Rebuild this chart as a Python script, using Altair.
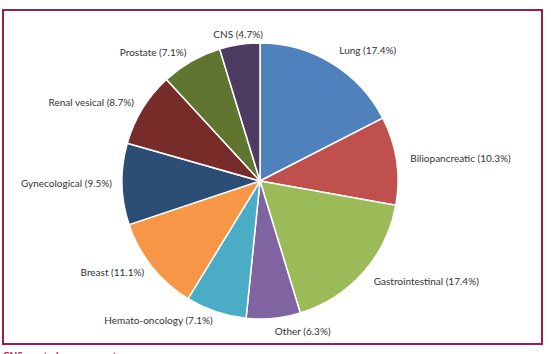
import math
import altair as alt
import pandas as pd

categories = ["Lung", "Biliopancreatic", "Gastrointestinal", "Other", "Hemato-oncology",
              "Breast", "Gynecological", "Renal vesical", "Prostate", "CNS"]
percent = [17.4, 10.3, 17.4, 6.3, 7.1, 11.1, 9.5, 8.7, 7.1, 4.7]
colors = ["#4F81BD", "#C0504D", "#9BBB59", "#8064A2", "#4BACC6",
          "#F79646", "#2C4D75", "#772C2A", "#5F7530", "#4D3B62"]
footnote = "CNS: central nervous system."

df = pd.DataFrame({
    "cat": categories,
    "pct": percent,
    "order": list(range(len(categories))),
    "label": [f"{c} ({p}%)" for c, p in zip(categories, percent)],
})
total = sum(percent)

theta_scale = alt.Scale(domain=[0, total], range=[0, 2 * math.pi])
CX, CY = 257, 171
FONT = "Lato"
TXT = "#333333"

base = alt.Chart(df)

pie = base.mark_arc(radius=138, stroke="white", strokeWidth=1.5).encode(
    theta=alt.Theta("pct:Q", stack=True, scale=theta_scale),
    color=alt.Color("cat:N", scale=alt.Scale(domain=categories, range=colors), legend=None),
    order=alt.Order("order:Q"),
    x=alt.value(CX),
    y=alt.value(CY),
)

lab = base.transform_window(
    cum="sum(pct)", sort=[alt.SortField("order")], frame=[None, 0]
).transform_calculate(
    mid="datum.cum - datum.pct / 2",
    frac="(datum.cum - datum.pct / 2) / " + str(total),
)

def text_layer(cond, align, r):
    return lab.transform_filter(cond).mark_text(
        radius=r, align=align, baseline="middle", font=FONT, fontSize=10, color=TXT
    ).encode(
        theta=alt.Theta("mid:Q", stack=False, scale=theta_scale),
        text="label:N",
        x=alt.value(CX),
        y=alt.value(CY),
    )

right = text_layer("datum.frac < 0.5", "left", 152)
left = text_layer("datum.frac >= 0.5 && datum.frac < 0.95", "right", 148)
top = text_layer("datum.frac >= 0.95", "center", 148)

foot = alt.Chart(pd.DataFrame({"t": [footnote]})).mark_text(
    align="left", baseline="top", font=FONT, fontSize=10, fontWeight="bold", color="#9e1b4a"
).encode(text="t:N", x=alt.value(0), y=alt.value(341))

chart = alt.layer(pie, right, left, top, foot).properties(
    width=539, height=334,
    autosize=alt.AutoSizeParams(type="none"),
    padding={"left": 3, "top": 10, "right": 9, "bottom": 10},
).configure_view(stroke="#9e1b4a", strokeWidth=2)

chart.save("out.html", embed_options={"renderer": "svg", "actions": False})
